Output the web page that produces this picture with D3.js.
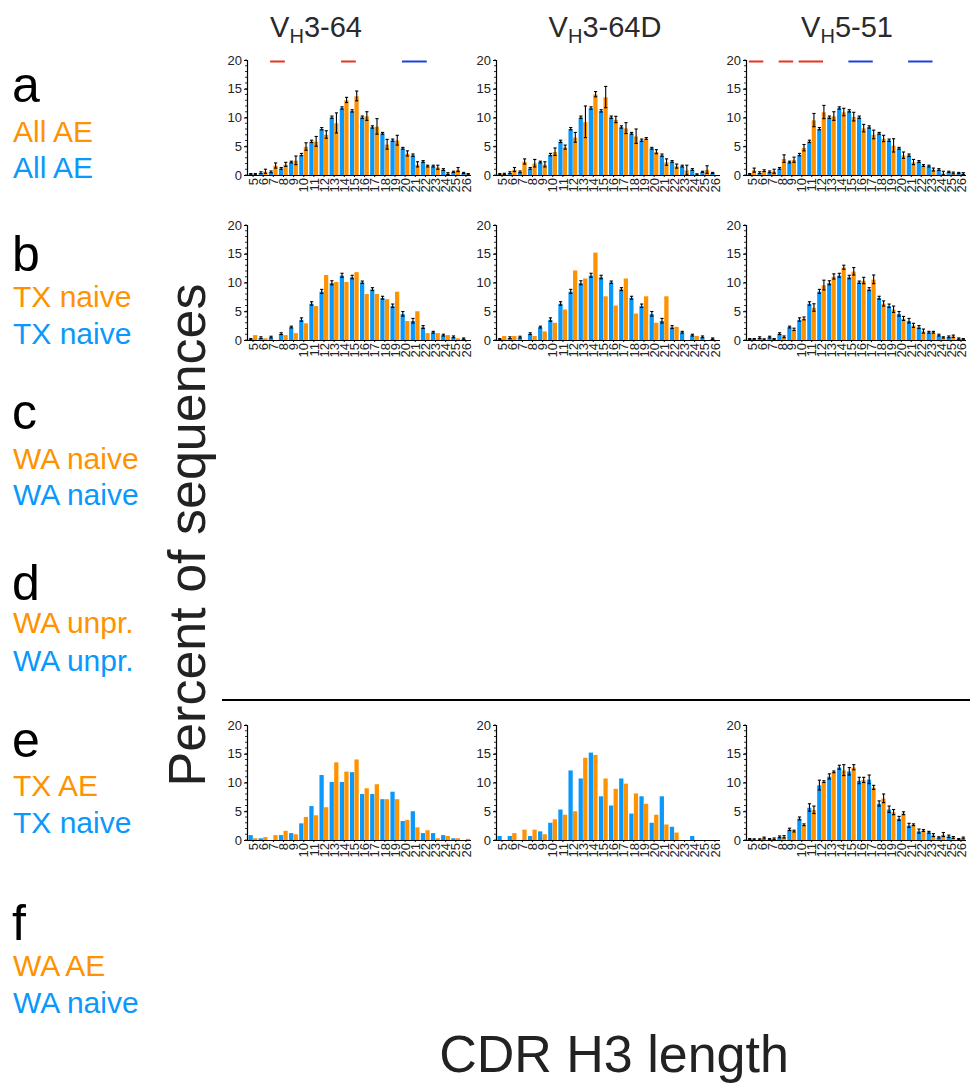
<!DOCTYPE html>
<html>
<head>
<meta charset="utf-8">
<script src="https://cdn.jsdelivr.net/npm/d3@7"></script>
<style>
  html, body { margin: 0; padding: 0; background: #fff; }
  svg { display: block; font-family: "Liberation Sans", Arial, Helvetica, sans-serif; }
</style>
</head>
<body>
<svg id="fig" width="970" height="1083"></svg>
<script>
// CDR H3 lengths (x categories)
const lengths = [5,6,7,8,9,10,11,12,13,14,15,16,17,18,19,20,21,22,23,24,25,26];
const yTicks = [0,5,10,15,20];
const geneTitles = [["V","H","3-64"],["V","H","3-64D"],["V","H","5-51"]];

// Row labels
const rowLetters   = ["a","b","c","d","e","f"];
const orangeLabels = ["All AE","TX naive","WA naive","WA unpr.","TX AE","WA AE"];
const blueLabels   = ["All AE","TX naive","WA naive","WA unpr.","TX naive","WA naive"];

// Row a: reference distribution (blue) shared by all genes
const allRef    = [0.1,0.35,0.5,1.1,2.2,3.5,5.8,8.0,10.0,11.6,11.1,10.0,8.3,7.2,6.0,4.6,3.4,2.3,1.5,0.9,0.5,0.3];
const allRefErr = [0.05,0.1,0.1,0.1,0.1,0.15,0.15,0.15,0.15,0.15,0.15,0.15,0.15,0.1,0.15,0.1,0.15,0.1,0.1,0.1,0.05,0.05];

// Row a: all AE per gene (orange)
const allAE_364     = [0.1,0.6,1.6,1.8,2.5,4.9,5.8,7.0,9.0,13.0,13.7,10.2,8.4,5.3,6.0,3.7,1.8,1.5,1.3,0.2,0.9,0.1];
const allAE_364Err  = [0.05,0.3,0.4,0.3,0.7,0.6,0.8,0.6,1.7,0.4,0.8,0.7,1.3,0.8,0.8,0.4,0.4,0.1,0.3,0.1,0.3,0.05];
const allAE_364D    = [0.15,0.9,2.3,2.0,1.8,4.0,4.8,6.5,9.2,14.0,13.5,9.6,8.1,6.7,6.3,4.0,2.2,1.5,0.8,0.05,0.9,0];
const allAE_364DErr = [0.05,0.3,0.4,0.6,0.4,0.6,0.3,0.8,2.7,0.4,1.8,0.5,0.9,1.2,0.1,0.3,0.5,0.3,0.8,0.05,0.6,0];
const allAE_551     = [0.8,0.7,0.6,2.8,2.6,4.7,9.5,10.9,10.2,10.9,10.1,8.1,7.0,6.3,5.1,3.4,2.2,1.6,0.9,0.25,0.3,0.2];
const allAE_551Err  = [0.3,0.1,0.3,0.6,0.4,0.5,1.1,1.1,0.7,0.6,0.7,0.6,0.7,0.5,1.1,0.5,0.4,0.1,0.2,0.3,0.1,0.1];

// Row b: naive reference (blue) shared by all genes
const naiveRef    = [0.1,0.35,0.45,1.05,2.2,3.5,6.3,8.4,9.9,11.2,10.9,10.0,8.8,7.3,5.9,4.5,3.3,2.2,1.3,0.8,0.5,0.2];
const naiveRefErr = [0.05,0.1,0.1,0.1,0.1,0.25,0.25,0.3,0.3,0.3,0.25,0.15,0.2,0.2,0.25,0.35,0.35,0.2,0.1,0.1,0.1,0.05];

// TX naive per gene
const txNaive_364     = [0.85,0.3,0,0.85,1.2,2.9,5.9,11.3,10.1,10.1,11.8,8.0,8.0,7.1,8.4,3.3,5.0,1.2,1.2,0.85,0.3,0];
const txNaive_364D    = [0.7,0.7,0,0.7,1.5,3.0,5.3,12.1,10.7,15.2,7.6,6.0,10.7,4.6,7.6,3.0,7.6,2.3,0,0.7,0,0];
const txNaive_551     = [0.1,0.05,0.1,0.5,1.8,3.7,5.6,9.5,11.0,12.6,11.9,10.3,10.5,6.3,5.3,3.7,2.5,1.5,1.3,0.4,0.6,0.1];
const txNaive_551Err  = [0.05,0.05,0.05,0.1,0.15,0.2,0.6,0.8,0.4,0.3,0.6,0.5,0.7,0.4,0.5,0.3,0.3,0.3,0.1,0.05,0.15,0.05];

// TX AE per gene
const txAE_364    = [0.3,0.5,0.85,1.6,1.0,4.0,4.3,5.7,13.5,11.9,14.0,9.0,9.7,7.1,7.1,3.5,2.2,1.7,0.3,0.7,0.3,0.2];
const txAE_364D   = [0,1.2,1.8,1.8,1.0,3.6,4.4,5.0,14.3,14.8,10.7,8.9,9.8,8.1,6.3,4.4,2.7,1.3,0,0,0,0];
const txAE_551    = [0.05,0.3,0.15,0.5,1.5,2.6,5.2,10.1,11.8,12.1,12.6,10.4,9.1,7.2,4.8,4.6,2.6,1.6,0.8,0.9,0.4,0.3];
const txAE_551Err = [0.05,0.1,0.1,0.15,0.1,0.1,0.6,0.1,0.1,0.9,0.4,0.4,0.3,0.7,0.4,0.2,0.1,0.1,0.2,0.3,0.1,0.1];

// Significant length ranges in row a ("up": enriched in AE, "down": depleted)
const sig_364  = [{from:7,to:8,dir:"up"},{from:14,to:15,dir:"up"},{from:20,to:22,dir:"down"}];
const sig_364D = [];
const sig_551  = [{from:5,to:6,dir:"up"},{from:8,to:9,dir:"up"},{from:10,to:12,dir:"up"},{from:15,to:17,dir:"down"},{from:21,to:23,dir:"down"}];

// ---- layout & style ----
const ORANGE = "#FF9200", BLUE = "#0A98FA";
const SIGCOL = {up:"#E8321E", down:"#1E40D8"};
const colX = [[247,471],[496,720],[746,966]];
const rowTop = {0:60, 1:225, 4:725};
const plotH = 115;

// panel table: row index -> per-gene series
const panels = [
  {row:0, col:0, orange:allAE_364,  oErr:allAE_364Err,  blue:allRef,   bErr:allRefErr,   sig:sig_364},
  {row:0, col:1, orange:allAE_364D, oErr:allAE_364DErr, blue:allRef,   bErr:allRefErr,   sig:sig_364D},
  {row:0, col:2, orange:allAE_551,  oErr:allAE_551Err,  blue:allRef,   bErr:allRefErr,   sig:sig_551},
  {row:1, col:0, orange:txNaive_364,  oErr:null,           blue:naiveRef, bErr:naiveRefErr},
  {row:1, col:1, orange:txNaive_364D, oErr:null,           blue:naiveRef, bErr:naiveRefErr},
  {row:1, col:2, orange:txNaive_551,  oErr:txNaive_551Err, blue:naiveRef, bErr:naiveRefErr},
  {row:4, col:0, orange:txAE_364,  oErr:null,        blue:txNaive_364,  bErr:null},
  {row:4, col:1, orange:txAE_364D, oErr:null,        blue:txNaive_364D, bErr:null},
  {row:4, col:2, orange:txAE_551,  oErr:txAE_551Err, blue:txNaive_551,  bErr:txNaive_551Err}
];

const svg = d3.select("#fig");

// Gene titles
const titleX = [316, 605, 847];
geneTitles.forEach((t, i) => {
  const txt = svg.append("text").attr("x", titleX[i]).attr("y", 37)
    .attr("text-anchor","middle").attr("font-size", 29).attr("fill","#2a2a2a");
  txt.append("tspan").text(t[0]);
  txt.append("tspan").attr("font-size", 20).attr("dy", 6).text(t[1]);
  txt.append("tspan").attr("dy", -6).text(t[2]);
});

// Row labels (baselines per row)
const letterBase = [102, 271, 429, 600, 757, 940];
const orangeBase = [142, 307, 469, 633, 796, 976];
const blueBase   = [178, 344, 505, 671, 833, 1013];
rowLetters.forEach((l, i) => {
  const g = svg.append("g");
  g.append("text").attr("x", 12).attr("y", letterBase[i]).attr("font-size", 50).attr("fill","#000").text(l);
  g.append("text").attr("x", 13).attr("y", orangeBase[i]).attr("font-size", 30).attr("fill", ORANGE).text(orangeLabels[i]);
  g.append("text").attr("x", 13).attr("y", blueBase[i]).attr("font-size", 30).attr("fill", BLUE).text(blueLabels[i]);
});

// Axis titles
svg.append("text").attr("transform","translate(205,535) rotate(-90)")
  .attr("text-anchor","middle").attr("font-size", 52).attr("fill","#222").text("Percent of sequences");
svg.append("text").attr("x", 614).attr("y", 1072)
  .attr("text-anchor","middle").attr("font-size", 52).attr("fill","#222").text("CDR H3 length");

// Separator line
svg.append("line").attr("x1",222).attr("x2",970).attr("y1",700).attr("y2",700)
  .attr("stroke","#000").attr("stroke-width",2);

// Panels
panels.forEach(p => {
  const [x0, x1] = colX[p.col];
  const top = rowTop[p.row];
  const g = svg.append("g");

  const x = d3.scaleBand().domain(lengths).range([x0 + 1, x1]).paddingInner(0.1).paddingOuter(0.05);
  const sub = d3.scaleBand().domain(["blue","orange"]).range([0, x.bandwidth()]).padding(0);
  const y = d3.scaleLinear().domain([0, 20]).range([top + plotH, top]);

  // minor ticks every 1 %
  g.append("g").selectAll("line").data(d3.range(0, 21))
    .join("line").attr("x1", x0 - 2).attr("x2", x0).attr("y1", d => y(d)).attr("y2", d => y(d))
    .attr("stroke","#000").attr("stroke-width",0.8);

  const series = [
    {key:"blue",   vals:p.blue,   err:p.bErr, color:BLUE},
    {key:"orange", vals:p.orange, err:p.oErr, color:ORANGE}
  ];
  series.forEach(s => {
    const data = lengths.map((L, i) => ({L, v:s.vals[i], e:s.err ? s.err[i] : null}));
    g.append("g").selectAll("rect").data(data).join("rect")
      .attr("x", d => x(d.L) + sub(s.key))
      .attr("width", sub.bandwidth() - 0.3)
      .attr("y", d => y(d.v))
      .attr("height", d => y(0) - y(d.v))
      .attr("fill", s.color);
    if (s.err) {
      const eg = g.append("g").attr("stroke","#000").attr("stroke-width",1.1);
      const ed = data.filter(d => d.v > 0);
      const cx = d => x(d.L) + sub(s.key) + sub.bandwidth() / 2;
      eg.selectAll("line.v").data(ed).join("line").attr("class","v")
        .attr("x1", cx).attr("x2", cx)
        .attr("y1", d => y(Math.max(0, d.v - d.e))).attr("y2", d => y(d.v + d.e) - 0.6);
      eg.selectAll("line.t").data(ed).join("line").attr("class","t")
        .attr("x1", d => cx(d) - 1.6).attr("x2", d => cx(d) + 1.6)
        .attr("y1", d => y(d.v + d.e) - 0.6).attr("y2", d => y(d.v + d.e) - 0.6);
      eg.selectAll("line.b").data(ed).join("line").attr("class","b")
        .attr("x1", d => cx(d) - 1.6).attr("x2", d => cx(d) + 1.6)
        .attr("y1", d => y(Math.max(0, d.v - d.e))).attr("y2", d => y(Math.max(0, d.v - d.e)));
    }
  });

  // y axis
  const ya = g.append("g").attr("transform", `translate(${x0},0)`)
    .call(d3.axisLeft(y).tickValues(yTicks).tickSize(3).tickPadding(2));
  ya.select(".domain").attr("stroke","#000").attr("stroke-width",1.2);
  ya.selectAll("text").attr("font-size", 13).attr("fill","#222")
    .attr("font-family","'Liberation Sans', Arial, sans-serif");

  // x axis
  const xa = g.append("g").attr("transform", `translate(0,${y(0)})`)
    .call(d3.axisBottom(x).tickSize(2).tickSizeOuter(0));
  xa.select(".domain").attr("stroke","#000").attr("stroke-width",1.2)
    .attr("d", `M${x0},0.5H${x1}`);
  xa.selectAll("text")
    .attr("transform","rotate(-90)").attr("x", -3).attr("y", 0).attr("dy","0.36em")
    .attr("text-anchor","end").attr("font-size", 13).attr("fill","#222")
    .attr("font-family","'Liberation Sans', Arial, sans-serif");

  // significance lines above the bars
  if (p.sig) {
    g.append("g").selectAll("line").data(p.sig).join("line")
      .attr("x1", d => x(d.from) + x.bandwidth() * 0.15)
      .attr("x2", d => x(d.to) + x.bandwidth() * 0.65)
      .attr("y1", y(20) + 1.5).attr("y2", y(20) + 1.5)
      .attr("stroke", d => SIGCOL[d.dir]).attr("stroke-width", 2);
  }
});
</script>
</body>
</html>
